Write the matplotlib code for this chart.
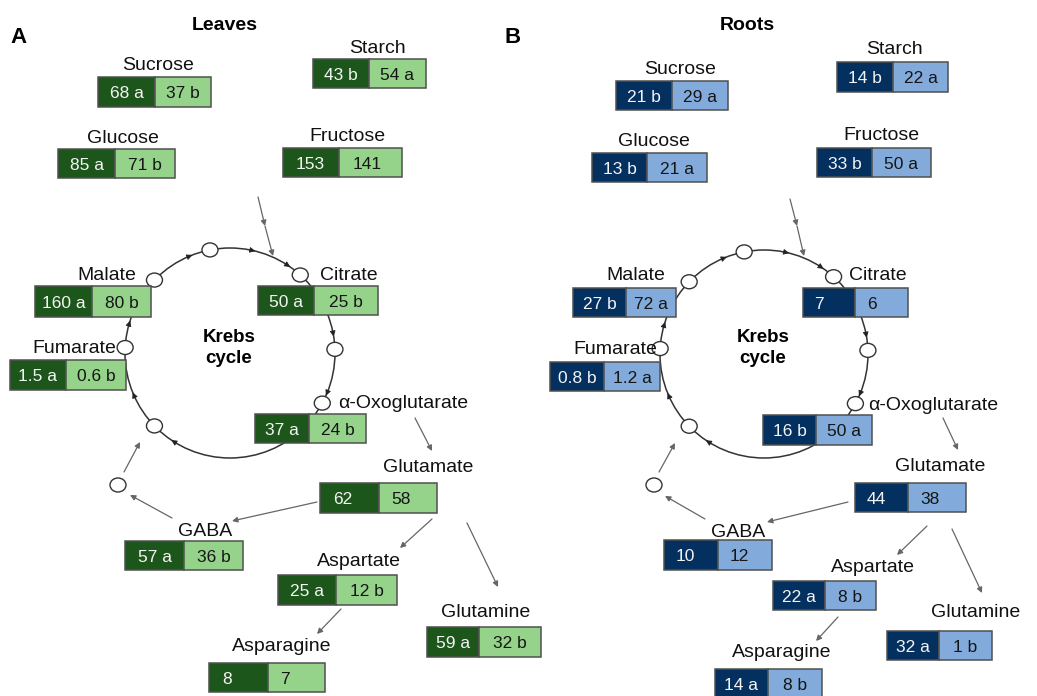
import numpy as np
import matplotlib
matplotlib.use("Agg")
import matplotlib.pyplot as plt
from matplotlib.patches import Rectangle, Ellipse, Circle

plt.rcParams['font.family'] = ['Liberation Sans', 'DejaVu Sans']

# ---------------- data ----------------
metabolites = ['Sucrose', 'Starch', 'Glucose', 'Fructose', 'Malate', 'Citrate',
               'Fumarate', 'α-Oxoglutarate', 'Glutamate', 'GABA', 'Aspartate',
               'Glutamine', 'Asparagine']

leaves_dark_values = [68, 43, 85, 153, 160, 50, 1.5, 37, 62, 57, 25, 59, 8]
leaves_dark_letters = ['a', 'b', 'a', '', 'a', 'a', 'a', 'a', '', 'a', 'a', 'a', '']
leaves_light_values = [37, 54, 71, 141, 80, 25, 0.6, 24, 58, 36, 12, 32, 7]
leaves_light_letters = ['b', 'a', 'b', '', 'b', 'b', 'b', 'b', '', 'b', 'b', 'b', '']

roots_dark_values = [21, 14, 13, 33, 27, 7, 0.8, 16, 44, 10, 22, 32, 14]
roots_dark_letters = ['b', 'b', 'b', 'b', 'b', '', 'b', 'b', '', '', 'a', 'a', 'a']
roots_light_values = [29, 22, 21, 50, 72, 6, 1.2, 50, 38, 12, 8, 1, 8]
roots_light_letters = ['a', 'a', 'a', 'a', 'a', '', 'a', 'a', '', '', 'b', 'b', 'b']

# ---------------- layout (pixel positions) ----------------
# box: left, top, split, right, bottom ; label: x, y, ha
leaves_boxes = [(98, 77, 155, 211, 107), (313, 59, 369, 426, 88), (58, 149, 115, 175, 178),
                (283, 148, 339, 402, 177), (35, 286, 92, 151, 317), (258, 286, 314, 378, 315),
                (10, 360, 66, 126, 390), (255, 414, 309, 366, 443), (320, 483, 379, 437, 513),
                (125, 541, 184, 243, 570), (278, 575, 336, 397, 605), (427, 627, 479, 541, 657),
                (209, 663, 268, 325, 692)]
leaves_labels = [(158, 63, 'center'), (377, 46, 'center'), (123, 136, 'center'),
                 (347, 134, 'center'), (107, 273, 'center'), (349, 273, 'center'),
                 (74, 346, 'center'), (338, 401, 'left'), (428, 465, 'center'),
                 (205, 529, 'center'), (359, 559, 'center'), (486, 610, 'center'),
                 (282, 644, 'center')]
roots_boxes = [(616, 81, 672, 728, 110), (837, 62, 893, 948, 92), (592, 153, 647, 707, 182),
               (817, 148, 872, 931, 177), (573, 288, 626, 676, 317), (803, 288, 855, 908, 317),
               (550, 362, 604, 660, 391), (763, 415, 816, 872, 445), (855, 483, 908, 966, 512),
               (664, 540, 718, 772, 570), (773, 581, 825, 876, 610), (887, 631, 939, 992, 660),
               (715, 669, 768, 822, 698)]
roots_labels = [(680, 67, 'center'), (894, 47, 'center'), (654, 139, 'center'),
                (881, 133, 'center'), (636, 273, 'center'), (878, 273, 'center'),
                (615, 347, 'center'), (868, 403, 'left'), (940, 464, 'center'),
                (738, 530, 'center'), (873, 565, 'center'), (976, 610, 'center'),
                (782, 650, 'center')]

leaves_arrows = [((258, 197), (265, 226)), ((265, 226), (273, 256)), ((415, 418), (432, 451)),
                 ((317, 502), (232, 521)), ((172, 518), (130, 495)), ((124, 472), (140, 442)),
                 ((432, 519), (400, 548)), ((467, 523), (498, 587)), ((341, 609), (317, 634))]
roots_arrows = [((790, 199), (797, 226)), ((797, 226), (804, 256)), ((943, 418), (958, 450)),
                ((848, 502), (767, 522)), ((705, 519), (665, 496)), ((659, 472), (675, 443)),
                ((927, 526), (897, 555)), ((952, 529), (982, 593)), ((838, 617), (816, 641))]

oval_angles = [-101, -136, -48, -2, 28.5, 136, 183]
head_angles = [-111, -76, -55, -9, 24, 124, 158, 198]

leaves_colors = ('#1d561b', '#95d38b')
roots_colors = ('#04305f', '#82abdc')

W, H = 1037, 696
fig = plt.figure(figsize=(W / 100, H / 100), dpi=100)
ax = fig.add_axes([0, 0, 1, 1])
ax.set_xlim(0, W)
ax.set_ylim(H, 0)
ax.axis('off')

LABEL_FS = 14
VAL_FS = 12.5


def fmt(v, letter):
    s = f"{v:g}"
    return f"{s} {letter}" if letter else s


def draw_box(box, dark_txt, light_txt, plain, colors):
    l, t, s, r, b = box
    ax.add_patch(Rectangle((l, t), s - l, b - t, facecolor=colors[0], edgecolor='#505050', lw=1.1, zorder=5))
    ax.add_patch(Rectangle((s, t), r - s, b - t, facecolor=colors[1], edgecolor='#505050', lw=1.1, zorder=5))
    yb = (t + b) / 2 + 6.2
    if plain:
        ax.text(l + 0.22 * (s - l), yb, dark_txt, color='#f4f4f4', fontsize=VAL_FS, ha='left', va='baseline', zorder=6)
        ax.text(s + 0.22 * (r - s), yb, light_txt, color='#151515', fontsize=VAL_FS, ha='left', va='baseline', zorder=6)
    else:
        ax.text((l + s) / 2, yb, dark_txt, color='#f4f4f4', fontsize=VAL_FS, ha='center', va='baseline', zorder=6)
        ax.text((s + r) / 2, yb, light_txt, color='#151515', fontsize=VAL_FS, ha='center', va='baseline', zorder=6)


def arrow(p0, p1, color='#666666', lw=0.9, ms=8):
    ax.annotate('', xy=p1, xytext=p0,
                arrowprops=dict(arrowstyle='-|>', color=color, lw=lw, mutation_scale=ms,
                                shrinkA=0, shrinkB=0), zorder=3)


def panel(boxes, labels, arrows, dv, dl, lv, ll, colors, center, radius, extra_oval,
          title, title_x, letter, letter_x):
    cx, cy = center
    ax.add_patch(Circle((cx, cy), radius, fill=False, edgecolor='#333333', lw=1.1, zorder=2))
    for a in head_angles:
        th1 = np.deg2rad(a)
        th0 = np.deg2rad(a - 3)
        p0 = (cx + radius * np.cos(th0), cy + radius * np.sin(th0))
        p1 = (cx + radius * np.cos(th1), cy + radius * np.sin(th1))
        ax.annotate('', xy=p1, xytext=p0,
                    arrowprops=dict(arrowstyle='-|>', color='#222222', lw=0.6, mutation_scale=8.5,
                                    shrinkA=0, shrinkB=0), zorder=3)
    for a in oval_angles:
        th = np.deg2rad(a)
        ax.add_patch(Ellipse((cx + radius * np.cos(th), cy + radius * np.sin(th)), 16, 14,
                             facecolor='white', edgecolor='#333333', lw=1.0, zorder=4))
    ax.add_patch(Ellipse(extra_oval, 16, 14, facecolor='white', edgecolor='#333333', lw=1.0, zorder=4))
    for p0, p1 in arrows:
        arrow(p0, p1)
    for i, name in enumerate(metabolites):
        plain = (dl[i] == '' and ll[i] == '')
        draw_box(boxes[i], fmt(dv[i], dl[i]), fmt(lv[i], ll[i]), plain, colors)
        x, y, ha = labels[i]
        ax.text(x, y + 7, name, fontsize=LABEL_FS, ha=ha, va='baseline', color='#111111', zorder=6)
    ax.text(cx - 1, 335 + 6.8, 'Krebs', fontsize=13.5, fontweight='bold', ha='center', va='baseline')
    ax.text(cx - 1, 356 + 6.8, 'cycle', fontsize=13.5, fontweight='bold', ha='center', va='baseline')
    ax.text(title_x, 23 + 7, title, fontsize=14, fontweight='bold', ha='center', va='baseline')
    ax.text(letter_x, 35 + 8, letter, fontsize=16, fontweight='bold', ha='left', va='baseline')


panel(leaves_boxes, leaves_labels, leaves_arrows, leaves_dark_values, leaves_dark_letters,
      leaves_light_values, leaves_light_letters, leaves_colors, (230, 353), 105, (118, 485),
      'Leaves', 225, 'A', 10)
panel(roots_boxes, roots_labels, roots_arrows, roots_dark_values, roots_dark_letters,
      roots_light_values, roots_light_letters, roots_colors, (764, 354), 104, (654, 485),
      'Roots', 747, 'B', 505)

fig.savefig('out.png', dpi=100, facecolor='white')
